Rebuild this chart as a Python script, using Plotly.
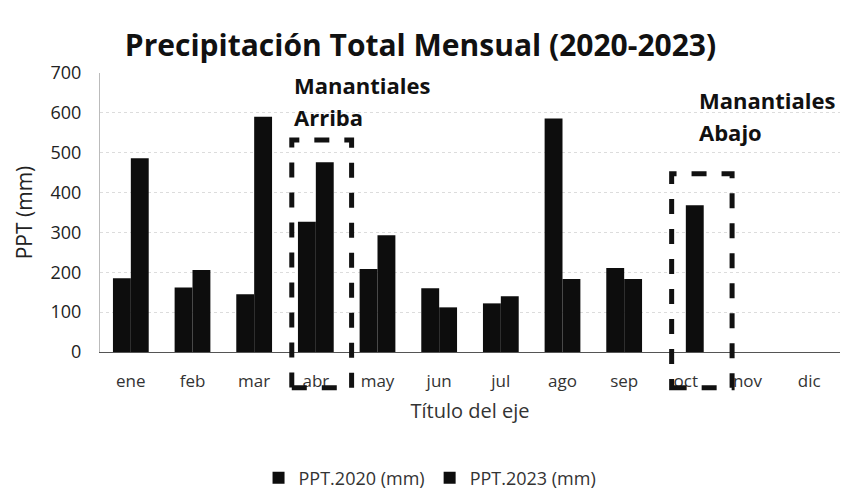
import plotly.graph_objects as go

# Monthly totals (mm)
meses = ["ene", "feb", "mar", "abr", "may", "jun", "jul", "ago", "sep", "oct", "nov", "dic"]
ppt_2020 = [185, 162, 145, 327, 208, 160, 122, 586, 211, 0, 0, 0]
ppt_2023 = [486, 206, 590, 476, 293, 112, 140, 183, 183, 368, 0, 0]

W, H = 841, 499
L, R, T, B = 100, 1, 73, 147
Y_MAX = 700
FONT = "'Open Sans', Lato, sans-serif"

plot_h = H - T - B


def px_x(idx):
    """category index -> paper x"""
    return (idx + 0.5) / len(meses)


def px_y(val):
    """data value -> paper y"""
    return val / Y_MAX


fig = go.Figure()
fig.add_trace(go.Bar(x=meses, y=ppt_2020, name="PPT.2020 (mm)",
                     marker=dict(color="#0d0d0d", line=dict(width=0))))
fig.add_trace(go.Bar(x=meses, y=ppt_2023, name="PPT.2023 (mm)",
                     marker=dict(color="#0d0d0d", line=dict(width=0))))

# dashed highlight boxes (category index span, value span)
boxes = [
    (2.61, 3.58, -90, 532),   # Manantiales Arriba around abr
    (8.77, 9.75, -90, 447),   # Manantiales Abajo around oct
]
shapes = []
for x0, x1, y0, y1 in boxes:
    shapes.append(dict(type="rect", xref="paper", yref="paper",
                       x0=px_x(x0), x1=px_x(x1), y0=px_y(y0), y1=px_y(y1),
                       line=dict(color="#111", width=5, dash="dash"),
                       fillcolor="rgba(0,0,0,0)", layer="above"))

# box labels: (text, category index, value level)
labels = [
    ("Manantiales", 2.62, 670), ("Arriba", 2.62, 590),
    ("Manantiales", 9.18, 632), ("Abajo", 9.18, 552),
]
annotations = [
    dict(text=f"<b>{t}</b>", xref="paper", yref="paper",
         x=px_x(xi), y=px_y(yv), xanchor="left", yanchor="middle", align="left",
         showarrow=False, font=dict(family=FONT, size=22, color="#111"))
    for t, xi, yv in labels
]

fig.update_layout(
    width=W, height=H,
    margin=dict(l=L, r=R, t=T, b=B),
    paper_bgcolor="white", plot_bgcolor="white",
    barmode="group", bargap=0.42, bargroupgap=0,
    title=dict(text="<b>Precipitación Total Mensual (2020-2023)</b>",
               x=0.5, xref="container", xanchor="center", y=1 - 45 / H, yanchor="middle",
               font=dict(family=FONT, size=30, color="#111")),
    font=dict(family=FONT, color="#222"),
    shapes=shapes,
    annotations=annotations,
    legend=dict(orientation="h", x=0.446, xanchor="center", y=(0 - (478 - 352)) / plot_h,
                yanchor="middle",
                font=dict(family=FONT, size=18, color="#333"),
                itemwidth=30, traceorder="normal"),
    xaxis=dict(
        categoryorder="array", categoryarray=meses,
        showline=True, linecolor="#555", linewidth=1,
        showgrid=False, ticks="", ticklabelstandoff=14,
        tickfont=dict(family=FONT, size=17, color="#333"),
        title=dict(text="Título del eje", font=dict(family=FONT, size=20, color="#333"),
                   standoff=12),
    ),
    yaxis=dict(
        range=[0, Y_MAX], dtick=100,
        showline=True, linecolor="#bbb", linewidth=1,
        showgrid=True, gridcolor="#dcdcdc", griddash="dot", gridwidth=1,
        zeroline=False, ticks="", ticklabelstandoff=14,
        tickfont=dict(family=FONT, size=18, color="#222"),
        title=dict(text="PPT (mm)", font=dict(family=FONT, size=21, color="#222"),
                   standoff=12),
    ),
)

fig.write_html("out.html")
